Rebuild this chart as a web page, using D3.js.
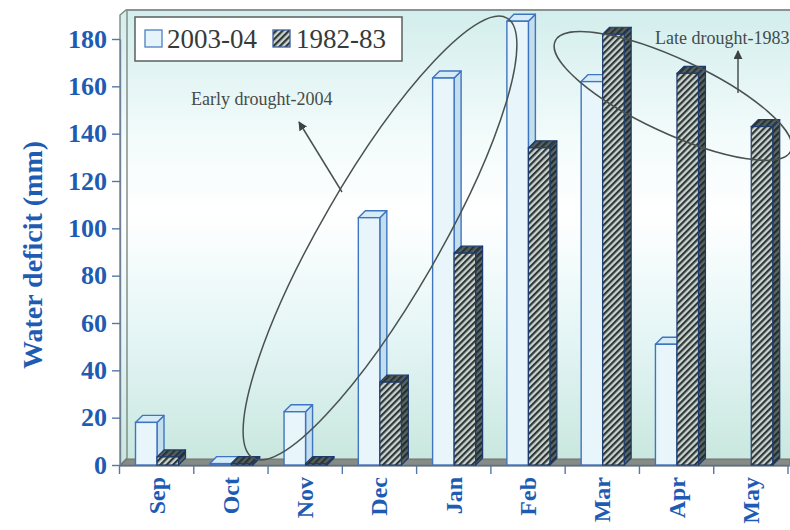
<!DOCTYPE html>
<html>
<head>
<meta charset="utf-8">
<script src="https://cdn.jsdelivr.net/npm/d3@7"></script>
<style>
  html, body { margin: 0; padding: 0; background: #ffffff; }
  svg { display: block; }
</style>
</head>
<body>
<svg id="chart" width="790" height="530"></svg>
<script>
// Monthly water deficit, two seasons
const months = ["Sep", "Oct", "Nov", "Dec", "Jan", "Feb", "Mar", "Apr", "May"];
const series = ["2003-04", "1982-83"];
const deficit2003 = [18, 0.6, 22.5, 104.5, 163.5, 187.5, 162, 51, null];
const deficit1982 = [3.4, 0.6, 0.6, 35, 89.5, 134, 182, 165.5, 143];
const yTicks = [0, 20, 40, 60, 80, 100, 120, 140, 160, 180];
const yTitle = "Water deficit (mm)";
const notes = [
  { text: "Early drought-2004" },
  { text: "Late drought-1983" }
];

const svg = d3.select("#chart");
const W = 790, H = 530;
const plotLeft = 120, plotBottom = 465, plotTop = 10;
const depthX = 7, depthY = 7;

const x = d3.scaleBand().domain(months).range([119.5, 788]).padding(0);
const xs = d3.scaleBand().domain(series).range([16, 59]).padding(0);
const y = d3.scaleLinear().domain([0, 180]).range([plotBottom, 39]);

const defs = svg.append("defs");

// wall gradient
const grad = defs.append("linearGradient")
  .attr("id", "wallGrad").attr("gradientUnits", "userSpaceOnUse")
  .attr("x1", 0).attr("x2", 0).attr("y1", plotTop).attr("y2", plotBottom);
[[0, "#d2eeec"], [0.28, "#f3fbfb"], [0.45, "#ffffff"], [0.72, "#e4f5f5"], [1, "#c8e7de"]]
  .forEach(([o, c]) => grad.append("stop").attr("offset", o).attr("stop-color", c));

// hatch patterns
function hatch(id, base, stripe) {
  const p = defs.append("pattern").attr("id", id)
    .attr("patternUnits", "userSpaceOnUse").attr("width", 4.5).attr("height", 4.5)
    .attr("patternTransform", "rotate(45)");
  p.append("rect").attr("width", 4.5).attr("height", 4.5).attr("fill", base);
  p.append("rect").attr("width", 2.2).attr("height", 4.5).attr("fill", stripe);
}
hatch("hatchFront", "#cdd4d0", "#2c3737");
hatch("hatchSide", "#5d6765", "#222d2d");
hatch("hatchTop", "#56605e", "#2a3434");

// back wall, left wall
svg.append("rect")
  .attr("x", plotLeft + depthX).attr("y", plotTop)
  .attr("width", W - plotLeft - depthX).attr("height", plotBottom - depthY - plotTop + 1)
  .attr("fill", "url(#wallGrad)");
svg.append("path")
  .attr("d", `M${plotLeft},${plotBottom} L${plotLeft},${plotTop + depthY - 2} L${plotLeft + depthX - 1},${plotTop} L${plotLeft + depthX},${plotTop} L${plotLeft + depthX},${plotBottom - depthY} Z`)
  .attr("fill", "url(#wallGrad)")
  .attr("stroke", "#7d8884").attr("stroke-width", 1.4);
svg.append("line")
  .attr("x1", plotLeft + depthX - 1).attr("x2", W).attr("y1", plotTop).attr("y2", plotTop)
  .attr("stroke", "#8a9390").attr("stroke-width", 2);

// floor
svg.append("path")
  .attr("d", `M${plotLeft},${plotBottom + 1} L${plotLeft + depthX},${plotBottom - depthY + 1} L${W},${plotBottom - depthY + 1} L${W},${plotBottom + 1} Z`)
  .attr("fill", "#868b85").attr("stroke", "#6b706b").attr("stroke-width", 1);

// y axis
const yAxis = svg.append("g")
  .attr("transform", `translate(${plotLeft},0)`)
  .call(d3.axisLeft(y).tickValues(yTicks).tickSize(8).tickSizeOuter(0).tickPadding(5));
yAxis.select(".domain").attr("stroke", "#6f7f95").attr("stroke-width", 1.4);
yAxis.selectAll(".tick line").attr("stroke", "#5577a8").attr("stroke-width", 1.4);
yAxis.selectAll(".tick text")
  .attr("fill", "#1e5cb3")
  .style("font-family", "'Liberation Serif', 'Times New Roman', serif")
  .style("font-weight", "bold").style("font-size", "26px");

svg.append("text")
  .attr("transform", `translate(42,255) rotate(-90)`)
  .attr("text-anchor", "middle")
  .attr("fill", "#1e5cb3")
  .style("font-family", "'Liberation Serif', 'Times New Roman', serif")
  .style("font-weight", "bold").style("font-size", "28px")
  .text(yTitle);

// x axis: labels from the band scale, ticks on band boundaries
const xAxis = svg.append("g")
  .attr("transform", `translate(0,${plotBottom})`)
  .call(d3.axisBottom(x).tickSize(0).tickSizeOuter(0));
xAxis.select(".domain").attr("stroke", "#5a6f8e").attr("stroke-width", 1.5);
xAxis.selectAll(".tick text")
  .attr("transform", "rotate(-90)")
  .attr("text-anchor", "end")
  .attr("x", -12).attr("y", 0).attr("dy", "0.33em")
  .attr("fill", "#1e5cb3")
  .style("font-family", "'Liberation Serif', 'Times New Roman', serif")
  .style("font-weight", "bold").style("font-size", "24px");
const bounds = months.map(m => x(m)).concat([x.range()[1]]);
svg.append("g").selectAll("line").data(bounds).join("line")
  .attr("x1", d => d).attr("x2", d => d)
  .attr("y1", plotBottom + 1).attr("y2", plotBottom + 9)
  .attr("stroke", "#5577a8").attr("stroke-width", 1.4);

// 3D columns
const styles = {
  "2003-04": { front: "#e8f6fb", top: "#d5ecf7", side: "#c3dfee", stroke: "#3f74c0", sw: 1.4 },
  "1982-83": { front: "url(#hatchFront)", top: "url(#hatchTop)", side: "url(#hatchSide)", stroke: "#1d3b6e", sw: 1.2 }
};
const barData = [];
months.forEach((m, i) => {
  [[series[0], deficit2003[i]], [series[1], deficit1982[i]]].forEach(([s, v]) => {
    if (v !== null) barData.push({ month: m, series: s, value: v });
  });
});

const bars = svg.append("g").selectAll("g").data(barData).join("g");
bars.each(function (d) {
  const g = d3.select(this);
  const st = styles[d.series];
  const x0 = x(d.month) + xs(d.series);
  const w = xs.bandwidth();
  const yv = y(d.value), y0 = y(0);
  g.append("path")
    .attr("d", `M${x0 + w},${yv} L${x0 + w + depthX},${yv - depthY} L${x0 + w + depthX},${y0 - depthY} L${x0 + w},${y0} Z`)
    .attr("fill", st.side).attr("stroke", st.stroke).attr("stroke-width", st.sw).attr("stroke-linejoin", "round");
  g.append("path")
    .attr("d", `M${x0},${yv} L${x0 + depthX},${yv - depthY} L${x0 + w + depthX},${yv - depthY} L${x0 + w},${yv} Z`)
    .attr("fill", st.top).attr("stroke", st.stroke).attr("stroke-width", st.sw).attr("stroke-linejoin", "round");
  g.append("rect")
    .attr("x", x0).attr("y", yv).attr("width", w).attr("height", Math.max(0, y0 - yv))
    .attr("fill", st.front).attr("stroke", st.stroke).attr("stroke-width", st.sw);
});

// annotations: ellipses and arrows
defs.append("marker").attr("id", "arrowHead")
  .attr("viewBox", "0 0 10 10").attr("refX", 9).attr("refY", 5)
  .attr("markerWidth", 9).attr("markerHeight", 9).attr("markerUnits", "userSpaceOnUse")
  .attr("orient", "auto")
  .append("path").attr("d", "M0,0 L10,5 L0,10 Z").attr("fill", "#3b4442");

const ann = svg.append("g").attr("fill", "none").attr("stroke", "#4a524f").attr("stroke-width", 1.5);
ann.append("ellipse")
  .attr("transform", "translate(380,238) rotate(-60)")
  .attr("rx", 254).attr("ry", 59);
ann.append("ellipse")
  .attr("transform", "translate(673,96) rotate(25)")
  .attr("rx", 130).attr("ry", 37);
ann.append("line")
  .attr("x1", 342).attr("y1", 192).attr("x2", 299).attr("y2", 122)
  .attr("marker-end", "url(#arrowHead)");
ann.append("line")
  .attr("x1", 738).attr("y1", 93).attr("x2", 738).attr("y2", 51)
  .attr("marker-end", "url(#arrowHead)");

const noteFont = "'Liberation Serif', 'Times New Roman', serif";
svg.append("text").attr("x", 191).attr("y", 105)
  .attr("fill", "#454b4a").style("font-family", noteFont).style("font-size", "18px")
  .text(notes[0].text);
svg.append("text").attr("x", 655).attr("y", 44)
  .attr("fill", "#454b4a").style("font-family", noteFont).style("font-size", "18px")
  .text(notes[1].text);

// legend
const legend = svg.append("g");
legend.append("rect").attr("x", 135).attr("y", 17).attr("width", 267).attr("height", 44)
  .attr("fill", "#ffffff").attr("stroke", "#5b5f5e").attr("stroke-width", 1.5);
const legendItems = [
  { s: series[0], sx: 145, tx: 167, fill: "#e4f4fa", stroke: "#4a7fc4" },
  { s: series[1], sx: 273, tx: 296, fill: "url(#hatchFront)", stroke: "#3a5fa0" }
];
legendItems.forEach(it => {
  legend.append("rect").attr("x", it.sx).attr("y", 30).attr("width", 17).attr("height", 17)
    .attr("fill", it.fill).attr("stroke", it.stroke).attr("stroke-width", 1.3);
  legend.append("text").attr("x", it.tx).attr("y", 48)
    .attr("fill", "#363a39").style("font-family", noteFont).style("font-size", "27px")
    .text(it.s);
});
</script>
</body>
</html>
